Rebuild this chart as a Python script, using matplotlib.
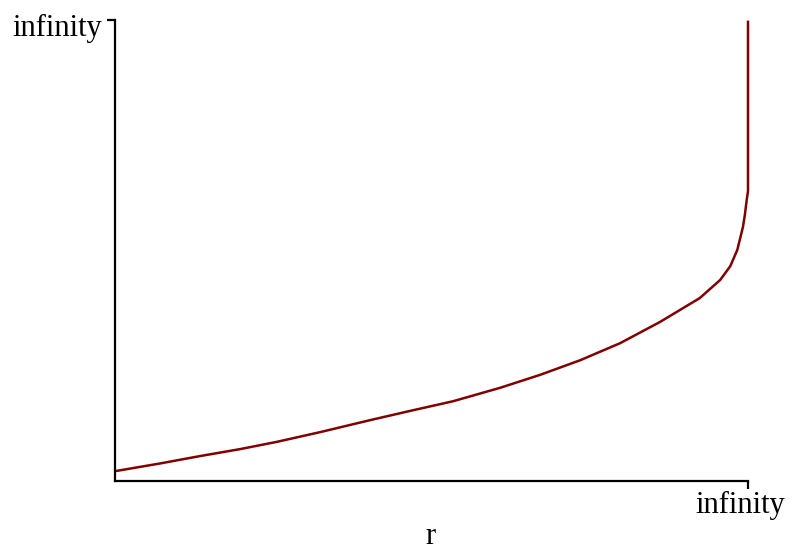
import matplotlib
matplotlib.use("Agg")
import matplotlib.pyplot as plt
import matplotlib.transforms as mtransforms

# curve values in axis fractions (0 = origin, 1 = "infinity")
r_vals = [0.003, 0.071, 0.134, 0.197, 0.256, 0.324, 0.403, 0.466, 0.534, 0.608,
          0.671, 0.735, 0.798, 0.861, 0.924, 0.956, 0.972, 0.983, 0.987, 0.992,
          0.995, 0.998, 1.0, 1.0]
f_vals = [0.022, 0.038, 0.054, 0.069, 0.085, 0.106, 0.132, 0.152, 0.173, 0.202,
          0.230, 0.262, 0.299, 0.345, 0.397, 0.436, 0.466, 0.501, 0.523, 0.551,
          0.577, 0.610, 0.629, 0.996]
x_ticks = [1.0]
x_tick_labels = ["infinity"]
y_ticks = [1.0]
y_tick_labels = ["infinity"]

plt.rcParams['font.family'] = ['Liberation Serif', 'DejaVu Serif']

fig = plt.figure(figsize=(7.94, 5.51), dpi=100)
ax = fig.add_axes([115/794, 1-481/551, (748-115)/794, (481-20)/551])
ax.plot(r_vals, f_vals, color='#800000', lw=1.8, solid_joinstyle='round', clip_on=False)
ax.set_xlim(0, 1)
ax.set_ylim(0, 1)
for s in ['top', 'right']:
    ax.spines[s].set_visible(False)
for s in ['left', 'bottom']:
    ax.spines[s].set_linewidth(1.6)
    ax.spines[s].set_color('black')
ax.set_xticks(x_ticks)
ax.set_xticklabels(x_tick_labels)
ax.set_yticks(y_ticks)
ax.set_yticklabels(y_tick_labels)
ax.tick_params(axis='both', length=6, width=1.6, labelsize=22, color='black')
ax.tick_params(axis='x', pad=1)
ax.tick_params(axis='y', pad=3)
for lab in ax.get_xticklabels():
    lab.set_horizontalalignment('center')
    lab.set_transform(lab.get_transform() + mtransforms.ScaledTranslation(-8/100, 0, fig.dpi_scale_trans))
for lab in ax.get_yticklabels():
    lab.set_transform(lab.get_transform() + mtransforms.ScaledTranslation(0, -5/100, fig.dpi_scale_trans))
ax.set_xlabel('r', fontsize=22)
ax.xaxis.set_label_coords((430 - 115) / 633, (481 - 522) / 461)
fig.savefig('out.png', dpi=100, facecolor='white')
